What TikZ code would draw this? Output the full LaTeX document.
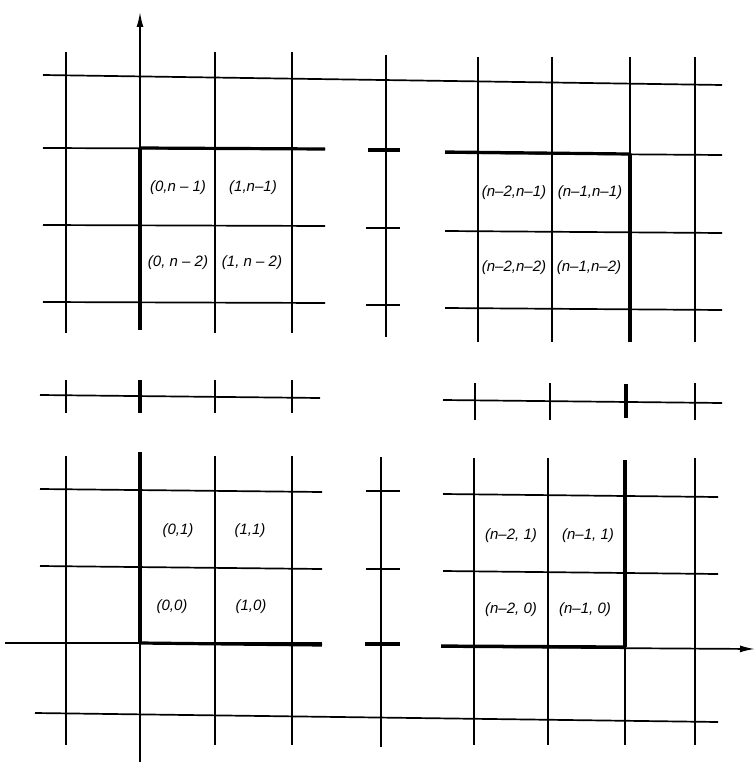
\documentclass[tikz,border=0pt]{standalone}
\usepackage{fontspec}
\setsansfont{Liberation Sans}
\usepackage{tikz}
\usetikzlibrary{arrows.meta}

\begin{document}
\begin{tikzpicture}[x=1pt,y=-1pt,>={Latex[length=15pt,width=7pt]},
  thin line/.style={line width=1.7pt},
  bold line/.style={line width=3.2pt},
  cell/.style={font=\sffamily\itshape\fontsize{15}{17}\selectfont,inner sep=0pt}]
  \useasboundingbox (0,0) rectangle (755,762);

  % long border lines and axes
  \draw[thin line] (43,75)--(722,85);
  \draw[thin line] (35,713)--(718,722);
  \draw[thin line,->] (140,330)--(140,12);
  \draw[thin line] (140,452)--(140,762);
  \draw[thin line] (5,643)--(322,643);
  \draw[thin line,->] (441,647)--(755,649);

  % upper left block
  \foreach \y in {148,225,302} \draw[thin line] (43,\y)--(325,\y+1);
  \foreach \x in {66,215,292} \draw[thin line] (\x,52)--(\x,333);
  \draw[bold line] (140,148)--(325,149);
  \draw[bold line] (140,148)--(140,330);

  % upper right block
  \foreach \y in {153,231,308} \draw[thin line] (445,\y)--(722,\y+2);
  \foreach \x in {478,552,630,695} \draw[thin line] (\x,57)--(\x,342);
  \draw[bold line] (445,152)--(630,154);
  \draw[bold line] (630,154)--(630,342);

  % middle column
  \draw[thin line] (386,55)--(386,337);
  \draw[thin line] (381,457)--(381,747);
  \draw[bold line] (368,150)--(400,150);
  \foreach \y in {228,305,491,569} \draw[thin line] (366,\y)--(400,\y);
  \draw[bold line] (365,644)--(400,644);

  % row of ticks
  \draw[thin line] (40,395)--(320,398);
  \draw[thin line] (443,400)--(722,403);
  \foreach \x in {66,215,292} \draw[thin line] (\x,380)--(\x,413);
  \foreach \x in {475,550,695} \draw[thin line] (\x,383)--(\x,420);
  \draw[bold line] (140,380)--(140,413);
  \draw[bold line] (626,384)--(626,418);

  % lower left block
  \foreach \y in {489,566} \draw[thin line] (40,\y)--(322,\y+3);
  \foreach \x in {66,215,292} \draw[thin line] (\x,456)--(\x,745);
  \draw[bold line] (140,452)--(140,643);
  \draw[bold line] (140,643)--(322,645);

  % lower right block
  \foreach \y in {494,571} \draw[thin line] (443,\y)--(718,\y+3);
  \foreach \x in {474,548,695} \draw[thin line] (\x,458)--(\x,745);
  \draw[thin line] (625,647)--(625,745);
  \draw[bold line] (625,460)--(625,647);
  \draw[bold line] (441,646)--(625,647);

  % cell labels
  \node[cell] (a01) at (178,188) {(0,n -- 1)};
  \node[cell] (a11) at (253,188) {(1,n--1)};
  \node[cell] (a02) at (178,263) {(0, n -- 2)};
  \node[cell] (a12) at (252,263) {(1, n -- 2)};
  \node[cell] (b01) at (514,193) {(n--2,n--1)};
  \node[cell] (b11) at (590,193) {(n--1,n--1)};
  \node[cell] (b02) at (514,268) {(n--2,n--2)};
  \node[cell] (b12) at (589,268) {(n--1,n--2)};
  \node[cell] (c01) at (178,531) {(0,1)};
  \node[cell] (c11) at (250,531) {(1,1)};
  \node[cell] (c00) at (172,607) {(0,0)};
  \node[cell] (c10) at (251,607) {(1,0)};
  \node[cell] (d01) at (511,536) {(n--2, 1)};
  \node[cell] (d11) at (588,536) {(n--1, 1)};
  \node[cell] (d00) at (511,610) {(n--2, 0)};
  \node[cell] (d10) at (585,610) {(n--1, 0)};
\end{tikzpicture}
\end{document}
